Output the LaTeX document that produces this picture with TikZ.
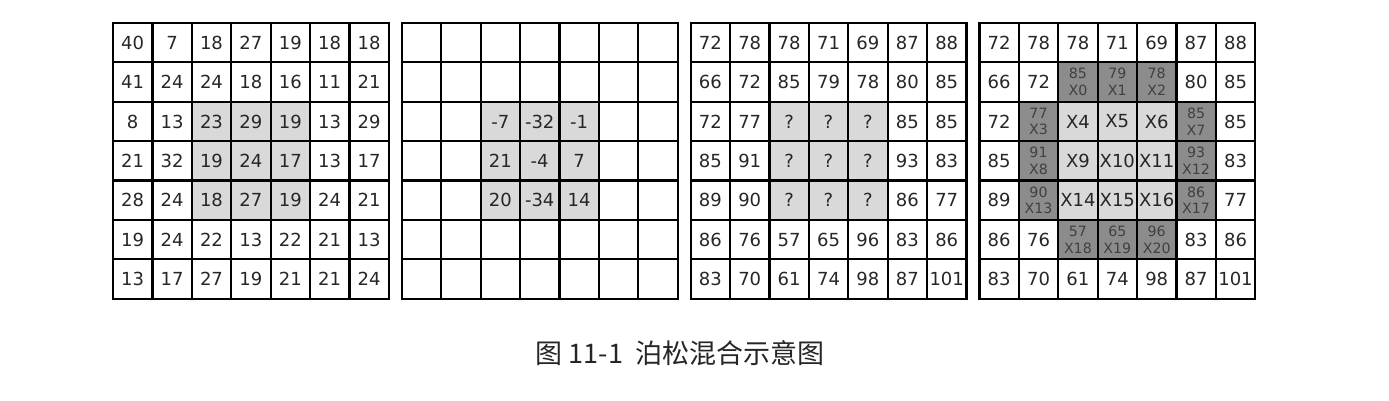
\documentclass[tikz,border=0pt]{standalone}
\usepackage{fontspec}
\setmainfont{DejaVu Sans}
\newfontfamily\cjk{Noto Sans CJK SC}
\usetikzlibrary{positioning}

\begin{document}
\begin{tikzpicture}[x=1pt, y=1pt,
  cell/.style={draw=black, line width=1.1pt, minimum size=19.7pt, inner sep=0pt,
    align=center, text=black!85, font=\fontsize{9}{10}\selectfont},
  tone0/.style={},
  tone1/.style={fill=black!15},
  tone2/.style={fill=black!45, text=black!75, font=\fontsize{7.1}{8.4}\selectfont}]
\useasboundingbox (0,0) rectangle (694.5,200.5);
\newcommand{\cs}{19.7}
\newcommand{\gap}{144.4}
\newcommand{\board}[2]{%
  \foreach \vals [count=\r] in {#2} {
    \foreach \v [count=\c] in \vals {
      \pgfmathtruncatemacro{\mid}{(\r>2)&&(\r<6)&&(\c>2)&&(\c<6)}
      \pgfmathtruncatemacro{\ring}{(#1==4)&&((((\r==2)||(\r==6))&&(\c>2)&&(\c<6))||(((\c==2)||(\c==6))&&(\r>2)&&(\r<6)))}
      \pgfmathtruncatemacro{\tone}{\mid+2*\ring}
      \node[cell, tone\tone] (g#1-\r-\c)
        at ({56.5+(#1-1)*\gap+(\c-0.5)*\cs}, {189-(\r-0.5)*\cs}) {\v};
    }
  }
}
% source
\board{1}{{40,7,18,27,19,18,18},{41,24,24,18,16,11,21},{8,13,23,29,19,13,29},
  {21,32,19,24,17,13,17},{28,24,18,27,19,24,21},{19,24,22,13,22,21,13},
  {13,17,27,19,21,21,24}}
% gradient
\board{2}{{{},{},{},{},{},{},{}},{{},{},{},{},{},{},{}},{{},{},-7,-32,-1,{},{}},
  {{},{},21,-4,7,{},{}},{{},{},20,-34,14,{},{}},{{},{},{},{},{},{},{}},
  {{},{},{},{},{},{},{}}}
% target
\board{3}{{72,78,78,71,69,87,88},{66,72,85,79,78,80,85},{72,77,?,?,?,85,85},
  {85,91,?,?,?,93,83},{89,90,?,?,?,86,77},{86,76,57,65,96,83,86},
  {83,70,61,74,98,87,101}}
% unknowns
\board{4}{{72,78,78,71,69,87,88},{66,72,{85\\X0},{79\\X1},{78\\X2},80,85},
  {72,{77\\X3},X4,X5,X6,{85\\X7},85},{85,{91\\X8},X9,X10,X11,{93\\X12},83},
  {89,{90\\X13},X14,X15,X16,{86\\X17},77},{86,76,{57\\X18},{65\\X19},{96\\X20},83,86},
  {83,70,61,74,98,87,101}}
\node[font=\cjk\fontsize{13.5}{15}\selectfont, text=black!85] (caption)
  at (340,24) {图 11-1\ \ 泊松混合示意图};
\end{tikzpicture}
\end{document}
